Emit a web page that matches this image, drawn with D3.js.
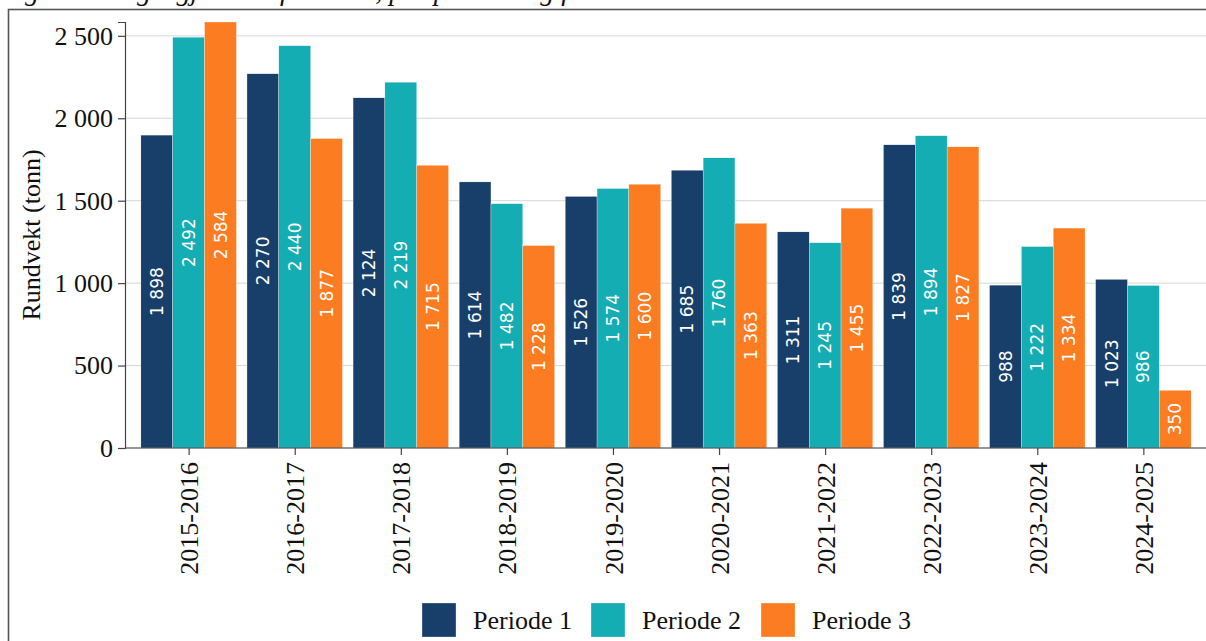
<!DOCTYPE html>
<html>
<head>
<meta charset="utf-8">
<script src="https://cdn.jsdelivr.net/npm/d3@7"></script>
<style>
  body { margin: 0; background: #fff; }
  svg { display: block; }
</style>
</head>
<body>
<svg id="chart"></svg>
<script>
// data
var seasons = ['2015-2016', '2016-2017', '2017-2018', '2018-2019', '2019-2020',
               '2020-2021', '2021-2022', '2022-2023', '2023-2024', '2024-2025'];
var periods = ['Periode 1', 'Periode 2', 'Periode 3'];
var periode1 = [1898, 2270, 2124, 1614, 1526, 1685, 1311, 1839, 988, 1023];
var periode2 = [2492, 2440, 2219, 1482, 1574, 1760, 1245, 1894, 1222, 986];
var periode3 = [2584, 1877, 1715, 1228, 1600, 1363, 1455, 1827, 1334, 350];
var yTicks = [0, 500, 1000, 1500, 2000, 2500];
var colors = ['#173f6a', '#14adb3', '#fc7c22'];

var width = 1206, height = 641;
var margin = {top: 22, right: -1, bottom: 193, left: 125};
var serif = 'Liberation Serif, Times New Roman, serif';
var fontSize = 26;

var svg = d3.select('#chart').attr('width', width).attr('height', height);

var fmt = d3.formatLocale({decimal: ',', thousands: '\u00a0', grouping: [3], currency: ['', '']}).format(',d');

var rows = seasons.map(function (s, i) {
    return {season: s, values: [periode1[i], periode2[i], periode3[i]]};
});

// caption, cut off by the top of the picture
svg.append('text')
    .attr('x', 0).attr('y', 0)
    .attr('font-family', serif)
    .attr('font-style', 'italic')
    .attr('font-size', 28)
    .attr('fill', '#111')
    .text('Figur 6 Fangst gjennom fiskeåret, per periode og fiskeår');

// frame
svg.append('rect')
    .attr('x', 8.5).attr('y', 9.5)
    .attr('width', 1400).attr('height', 1000)
    .attr('fill', 'none')
    .attr('stroke', '#555').attr('stroke-width', 1.6);

// category centres sit 0.6 step in from the panel edges
var panelW = width - margin.right - margin.left;
var stepW = panelW / (seasons.length - 1 + 1.2);
var x0 = d3.scalePoint()
    .domain(seasons)
    .range([margin.left + 0.6 * stepW, margin.left + panelW - 0.6 * stepW]);

var x1 = d3.scaleBand()
    .domain(periods)
    .range([-0.45 * stepW, 0.45 * stepW])
    .padding(0);

var y = d3.scaleLinear()
    .domain([0, 2584])
    .range([height - margin.bottom, margin.top]);

// gridlines
svg.append('g')
    .selectAll('line')
    .data(yTicks)
    .enter().append('line')
    .attr('x1', margin.left).attr('x2', width)
    .attr('y1', function (d) { return y(d); })
    .attr('y2', function (d) { return y(d); })
    .attr('stroke', '#d6d6d6')
    .attr('stroke-width', 1);

// bars
var groups = svg.append('g')
    .selectAll('g')
    .data(rows)
    .enter().append('g')
    .attr('transform', function (d) { return 'translate(' + x0(d.season) + ',0)'; });

function cells(d) {
    return d.values.map(function (v, i) { return {p: periods[i], v: v, i: i}; });
}

groups.selectAll('rect')
    .data(cells)
    .enter().append('rect')
    .attr('x', function (d) { return x1(d.p); })
    .attr('width', x1.bandwidth())
    .attr('y', function (d) { return y(d.v); })
    .attr('height', function (d) { return y(0) - y(d.v); })
    .attr('fill', function (d) { return colors[d.i]; })
    .attr('stroke', '#fff').attr('stroke-width', 0.3);

groups.selectAll('text')
    .data(cells)
    .enter().append('text')
    .attr('transform', function (d) {
        return 'translate(' + (x1(d.p) + x1.bandwidth() / 2) + ',' + y(d.v / 2) + ') rotate(-90)';
    })
    .attr('text-anchor', 'middle')
    .attr('dy', '0.36em')
    .attr('font-family', 'DejaVu Sans, sans-serif')
    .attr('font-size', 17)
    .attr('fill', '#fff')
    .text(function (d) { return fmt(d.v); });

// y axis
var yAxis = svg.append('g')
    .attr('transform', 'translate(' + margin.left + ',0)')
    .call(d3.axisLeft(y).tickValues(yTicks).tickSize(7).tickPadding(5).tickFormat(fmt));
yAxis.select('.domain').attr('stroke', '#444').attr('stroke-width', 1.2);
yAxis.selectAll('.tick line').attr('stroke', '#444').attr('stroke-width', 1.2);
yAxis.selectAll('.tick text')
    .attr('font-family', serif)
    .attr('font-size', fontSize)
    .attr('fill', '#111');

// x axis
var xAxis = svg.append('g')
    .attr('transform', 'translate(0,' + y(0) + ')')
    .call(d3.axisBottom(x0).tickSize(7).tickPadding(6));
xAxis.select('.domain').attr('d', 'M' + margin.left + ',0H' + width)
    .attr('stroke', '#444').attr('stroke-width', 1.2);
xAxis.selectAll('.tick line').attr('stroke', '#444').attr('stroke-width', 1.2);
xAxis.selectAll('.tick text')
    .attr('font-family', serif)
    .attr('font-size', fontSize)
    .attr('fill', '#111')
    .attr('transform', 'rotate(-90)')
    .attr('text-anchor', 'end')
    .attr('x', -14)
    .attr('y', 0)
    .attr('dy', '0.35em');

// y axis title
svg.append('text')
    .attr('transform', 'translate(40,' + ((y(0) + margin.top) / 2) + ') rotate(-90)')
    .attr('text-anchor', 'middle')
    .attr('font-family', serif)
    .attr('font-size', fontSize)
    .attr('fill', '#111')
    .text('Rundvekt (tonn)');

// legend
var legendX = [422, 591, 761];
var legend = svg.append('g')
    .selectAll('g')
    .data(periods)
    .enter().append('g')
    .attr('transform', function (d, i) { return 'translate(' + legendX[i] + ',603)'; });

legend.append('rect')
    .attr('width', 34).attr('height', 34)
    .attr('fill', function (d, i) { return colors[i]; })
    .attr('stroke', '#fff').attr('stroke-width', 0.3);

legend.append('text')
    .attr('x', 51).attr('y', 17)
    .attr('dy', '0.35em')
    .attr('font-family', serif)
    .attr('font-size', fontSize)
    .attr('fill', '#111')
    .text(function (d) { return d; });
</script>
</body>
</html>
